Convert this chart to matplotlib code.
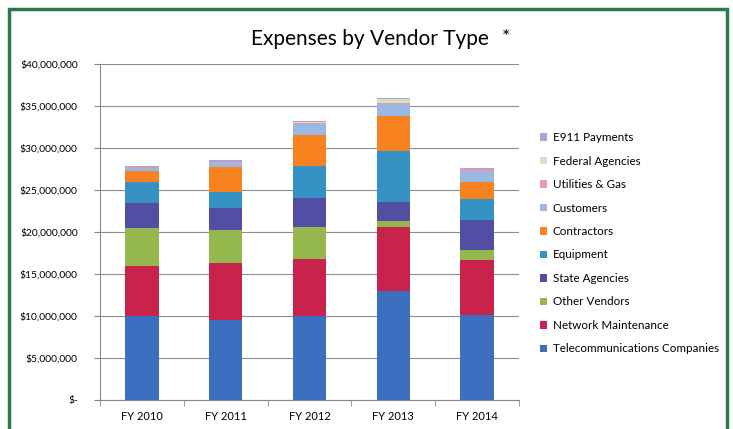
import matplotlib
matplotlib.use('Agg')
from matplotlib import pyplot as plt
from matplotlib.patches import Rectangle, Patch
from matplotlib.ticker import FuncFormatter, MultipleLocator
import numpy as np

plt.rcParams['font.family'] = ['Lato', 'DejaVu Sans']

# 数据（单位：美元）
years = ['FY 2010', 'FY 2011', 'FY 2012', 'FY 2013', 'FY 2014']
telecom = [10.0e6, 9.5e6, 10.0e6, 13.0e6, 10.15e6]
network = [6.0e6, 6.8e6, 6.8e6, 7.6e6, 6.55e6]
other_vendors = [4.5e6, 3.95e6, 3.8e6, 0.7e6, 1.1e6]
state_agencies = [2.95e6, 2.55e6, 3.4e6, 2.25e6, 3.65e6]
equipment = [2.55e6, 1.9e6, 3.9e6, 6.05e6, 2.45e6]
contractors = [1.3e6, 3.0e6, 3.6e6, 4.2e6, 2.05e6]
customers = [0.35e6, 0.55e6, 1.4e6, 1.45e6, 1.3e6]
utilities = [0.05e6, 0.05e6, 0.05e6, 0.05e6, 0.25e6]
federal = [0.05e6, 0.05e6, 0.1e6, 0.5e6, 0.05e6]
e911 = [0.15e6, 0.2e6, 0.1e6, 0.1e6, 0.1e6]

series = [
    ('Telecommunications Companies', telecom, '#3d6fc0'),
    ('Network Maintenance', network, '#c8234a'),
    ('Other Vendors', other_vendors, '#94b84e'),
    ('State Agencies', state_agencies, '#524ea3'),
    ('Equipment', equipment, '#3592c2'),
    ('Contractors', contractors, '#f7821f'),
    ('Customers', customers, '#9ab8e4'),
    ('Utilities & Gas', utilities, '#eb9aa8'),
    ('Federal Agencies', federal, '#d5e2bc'),
    ('E911 Payments', e911, '#a9a4d0'),
]

fig = plt.figure(figsize=(7.33, 4.29), dpi=100)
ax = fig.add_axes([0.1364, 0.0676, 0.5716, 0.7834])

x = np.arange(len(years))
bottom = np.zeros(len(years))
handles = []
for name, vals, color in series:
    ax.bar(x, vals, width=0.4, bottom=bottom, color=color, zorder=3)
    bottom += np.array(vals)
    handles.append(Patch(facecolor=color, label=name))

ax.set_xlim(-0.5, len(years) - 0.5)
ax.set_ylim(0, 40e6)
ax.yaxis.set_major_locator(MultipleLocator(5e6))
ax.yaxis.set_major_formatter(FuncFormatter(
    lambda v, p: '$-' if v == 0 else '${:,.0f}'.format(v)))
ax.set_xticks(x)
ax.set_xticklabels(years)
ax.set_xticks(np.arange(-0.5, len(years)), minor=True)
ax.tick_params(axis='x', which='major', length=0, labelsize=8, pad=8)
ax.tick_params(axis='x', which='minor', length=4, color='#888888')
ax.tick_params(axis='y', length=4, color='#888888', labelsize=7.4, pad=12)
ax.grid(axis='y', color='#8c8c8c', linewidth=0.8, zorder=0)
for s in ['top', 'right']:
    ax.spines[s].set_visible(False)
for s in ['left', 'bottom']:
    ax.spines[s].set_color('#888888')

fig.text(0.505, 0.91, 'Expenses by Vendor Type', ha='center', va='center', fontsize=15)
fig.text(0.69, 0.912, '*', ha='center', va='center', fontsize=14)

leg = fig.legend(handles=handles[::-1], loc='center left', bbox_to_anchor=(0.722, 0.433),
                 frameon=False, fontsize=8.4, handlelength=0.6, handleheight=0.6,
                 handletextpad=0.5, labelspacing=1.07)

# 绿色边框
fig.patches.append(Rectangle((0.012, -0.05), 0.98, 1.03, transform=fig.transFigure,
                             fill=False, edgecolor='#2c7a4b', linewidth=2.5))

fig.savefig('out.png', dpi=100)
